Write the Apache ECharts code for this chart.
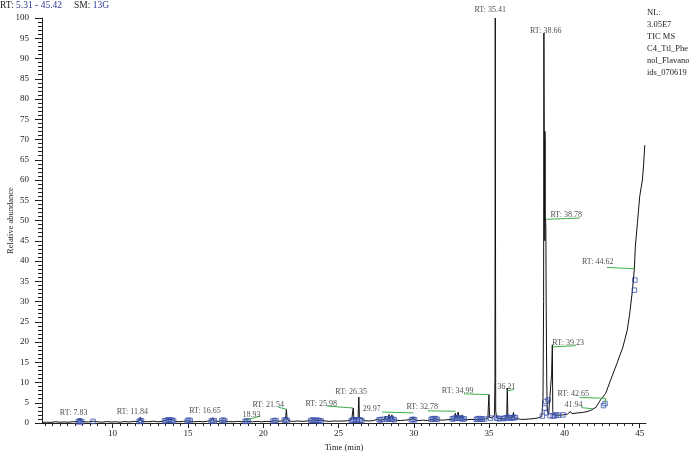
<!DOCTYPE html>
<html>
<head>
<meta charset="utf-8">
<script src="https://cdn.jsdelivr.net/npm/echarts@6/dist/echarts.min.js"></script>
<style>html,body{margin:0;padding:0;background:#fff}#c{width:689px;height:458px}</style>
</head>
<body>
<div id="c"></div>
<script>
// Chromatogram (time in min, relative abundance %)
const times = [5.31,5.6,5.9,6.2,6.5,6.8,7.1,7.4,7.7,7.8,7.83,7.87,8.1,8.4,8.7,9.0,9.3,9.6,9.9,10.2,10.5,10.8,11.1,11.4,11.7,11.8,11.84,11.88,12.1,12.4,12.7,13.0,13.3,13.55,13.65,13.75,13.85,14.0,14.15,14.4,14.7,14.95,15.05,15.15,15.4,15.7,16.0,16.3,16.55,16.65,16.72,17.0,17.25,17.35,17.45,17.7,18.0,18.3,18.6,18.85,18.93,19.0,19.3,19.6,19.9,20.2,20.5,20.75,20.9,21.2,21.45,21.5,21.54,21.58,21.7,22.0,22.3,22.6,22.9,23.2,23.4,23.6,23.8,24.1,24.4,24.7,25.0,25.3,25.6,25.88,25.93,25.98,26.02,26.2,26.3,26.35,26.39,26.5,26.7,27.0,27.3,27.6,27.8,28.05,28.1,28.15,28.3,28.35,28.4,28.5,28.55,28.6,28.8,29.1,29.4,29.7,29.93,29.97,30.02,30.3,30.6,30.9,31.2,31.4,31.6,31.9,32.2,32.5,32.7,32.75,32.8,32.9,32.95,33.0,33.15,33.2,33.25,33.5,33.8,34.1,34.3,34.5,34.75,34.92,34.95,34.99,35.03,35.2,35.36,35.39,35.41,35.44,35.5,35.7,35.9,36.1,36.17,36.21,36.25,36.4,36.55,36.62,36.68,36.85,37.1,37.4,37.7,38.0,38.3,38.5,38.58,38.62,38.64,38.66,38.68,38.69,38.70,38.71,38.72,38.73,38.75,38.77,38.79,38.81,38.83,38.86,38.9,38.95,39.05,39.15,39.2,39.23,39.26,39.35,39.6,39.9,40.2,40.4,40.5,40.6,40.9,41.2,41.5,41.8,42.1,42.4,42.74,43.07,43.49,43.89,44.18,44.34,44.52,44.65,44.71,44.85,45.0,45.18,45.26,45.34,45.42];
const abundance = [0.15,0.2,0.15,0.3,0.2,0.25,0.2,0.35,0.3,0.5,1.2,0.5,0.3,0.25,0.45,0.3,0.2,0.35,0.25,0.3,0.2,0.35,0.25,0.4,0.35,0.5,1.4,0.5,0.35,0.3,0.45,0.3,0.4,0.7,0.5,0.9,0.6,0.8,0.4,0.3,0.4,0.5,0.9,0.5,0.3,0.4,0.3,0.45,0.5,1.3,0.5,0.4,0.55,1.0,0.5,0.35,0.3,0.4,0.3,0.45,0.9,0.4,0.3,0.4,0.3,0.4,0.35,0.6,0.5,0.45,0.8,1.8,3.4,1.2,0.5,0.4,0.5,0.4,0.5,0.6,0.8,0.6,0.7,0.5,0.4,0.5,0.45,0.5,0.55,0.8,2.5,3.7,1.0,0.9,1.5,6.4,1.3,0.9,0.6,0.5,0.6,0.9,0.7,0.9,1.7,0.8,0.9,2.1,0.9,1.0,2.0,0.9,0.7,0.6,0.7,0.8,1.0,1.5,0.8,0.6,0.7,0.6,0.9,1.1,0.8,0.7,0.8,0.9,1.1,2.4,1.2,1.3,2.7,1.2,1.3,2.0,1.0,0.8,0.9,0.8,1.0,0.9,1.0,1.2,4,7.0,1.4,1.2,2,11,100,3,1.3,1.1,1.0,1.1,1.6,8.6,1.5,1.2,1.4,2.6,1.3,1.1,0.9,0.9,1.0,1.1,1.3,1.6,6,30,96.3,72,50,70,45,72,51,50.8,50.5,48,30,20,10,4,2.5,2.0,2.2,12,19.3,3,2.0,1.8,1.9,2.0,2.2,2.8,2.3,2.3,2.5,2.6,2.8,3.2,3.9,5.7,7.3,10.6,14.7,18.8,23,27.1,32.8,38.2,43.5,49.3,55.9,60.0,63.7,68.6];

// Blue open-square markers
const squareTimes = [7.72,7.8,7.87,7.94,8.7,11.76,11.84,11.92,13.45,13.55,13.65,13.75,13.85,13.95,14.05,14.95,15.05,15.15,16.55,16.65,16.75,17.25,17.35,17.45,18.8,18.9,19.0,20.65,20.75,20.85,21.4,21.5,21.6,23.15,23.25,23.35,23.45,23.55,23.65,23.75,23.85,25.85,25.95,26.05,26.15,26.25,26.35,26.45,26.55,27.7,27.8,27.9,28.2,28.3,28.4,28.5,28.6,28.7,29.85,29.95,30.05,31.15,31.25,31.35,31.45,31.55,32.55,32.65,32.75,32.85,32.95,33.05,33.15,33.25,33.35,34.15,34.25,34.35,34.45,34.55,34.7,35.1,35.5,35.6,35.7,35.95,36.05,36.15,36.25,36.35,36.45,36.55,36.65,36.75,38.54,38.7,38.77,38.81,38.92,39.05,39.25,39.35,39.47,39.6,39.91,42.6,42.7,44.68,44.65];
const squareValues = [0.3,0.5,0.4,0.3,0.4,0.4,0.6,0.5,0.5,0.6,0.7,0.8,0.6,0.7,0.5,0.5,0.7,0.6,0.5,0.6,0.5,0.6,0.7,0.5,0.4,0.5,0.5,0.5,0.6,0.6,0.7,0.8,0.6,0.6,0.7,0.7,0.6,0.7,0.6,0.6,0.5,0.6,0.7,0.8,0.7,0.7,0.8,0.7,0.6,0.8,0.8,0.9,0.9,1.0,1.0,1.1,0.9,0.8,0.8,0.9,0.8,0.9,1.0,1.1,1.0,0.9,1.0,1.1,1.2,1.3,1.2,1.1,1.2,1.0,1.0,0.9,1.0,1.1,1.0,0.9,1.0,1.2,1.2,1.1,1.1,1.1,1.2,1.3,1.4,1.3,1.2,1.3,1.4,1.3,1.7,3.7,5.3,2.5,5.7,1.8,1.7,1.8,2.0,1.9,2.0,4.3,4.8,35.3,32.8];

// Peak annotation labels (text, label centre time, label centre abundance)
const labelTexts = ['RT: 35.41','RT: 38.66','RT: 38.78','RT: 44.62','RT: 39.23','RT: 42.65','41.94','36.21','RT: 34.99','RT: 32.78','29.97','RT: 25.98','RT: 26.35','RT: 21.54','18.93','RT: 7.83','RT: 11.84','RT: 16.65'];
const labelTimes = [35.08,38.76,40.12,42.21,40.25,40.59,40.6,36.15,32.91,30.56,27.21,23.85,25.84,20.33,19.23,7.41,11.31,16.13];
const labelValues = [102.0,96.8,51.4,39.75,19.7,7.1,4.44,9.0,7.9,3.9,3.4,4.7,7.6,4.44,2.1,2.6,2.8,3.0];

// Green connector lines from labels to peaks
const connectorPaths = [
  [[38.81,50.3],[41.02,50.6]],
  [[42.83,38.4],[44.67,38.1]],
  [[39.24,18.8],[40.75,19.1]],
  [[41.02,6.3],[42.72,6.1],[42.72,4.9]],
  [[41.13,3.8],[41.9,3.5]],
  [[36.21,7.9],[36.65,8.3]],
  [[33.32,7.2],[35.01,7.0]],
  [[30.93,3.0],[32.78,2.9]],
  [[27.9,2.7],[29.97,2.5]],
  [[24.2,4.2],[25.97,3.7]],
  [[21.0,3.9],[21.55,3.4]],
  [[18.93,0.8],[19.8,1.7]]
];

// Axis ticks
const xMin = 5.31, xMax = 45.42;
const xMajorTicks = [10,15,20,25,30,35,40,45];
const xMinorTicks = [];
for (let v = 5.5; v <= 45.4; v += 0.5) xMinorTicks.push(+v.toFixed(1));

const headerRange = '5.31 - 45.42';
const headerSM = '13G';
const infoLines = ['NL:','3.05E7','TIC MS','C4_Ttl_Phe','nol_Flavano','ids_070619'];

const FONT = '"Liberation Serif", "DejaVu Serif", serif';
const chart = echarts.init(document.getElementById('c'), null, {renderer: 'canvas'});
chart.setOption({
  animation: false,
  backgroundColor: '#fff',
  title: [{
    left: 0, top: 0, padding: 0,
    text: '{k|RT:} {v|' + headerRange + '}     {k|SM:} {v|' + headerSM + '}',
    textStyle: {fontFamily: FONT, fontSize: 9.5, fontWeight: 'normal',
      rich: {k: {fontFamily: FONT, fontSize: 9.5, color: '#222'}, v: {fontFamily: FONT, fontSize: 9.5, color: '#2b3a8f'}}}
  }, {
    left: 647, top: 7, padding: 0,
    text: infoLines.join('\n'),
    textStyle: {fontFamily: FONT, fontSize: 8.5, fontWeight: 'normal', color: '#222', lineHeight: 12}
  }],
  grid: {left: 42, right: 43, top: 18, bottom: 35, containLabel: false, outerBoundsMode: 'none'},
  xAxis: [{
    type: 'value', min: xMin, max: xMax,
    name: 'Time (min)', nameLocation: 'middle', nameGap: 20, nameMoveOverlap: false,
    nameTextStyle: {fontFamily: FONT, fontSize: 8.5, color: '#222'},
    axisLine: {show: true, onZero: false, lineStyle: {color: '#222', width: 1}},
    axisTick: {show: true, length: 5, customValues: xMajorTicks, lineStyle: {color: '#222'}},
    axisLabel: {show: true, customValues: xMajorTicks, margin: 6, fontFamily: FONT, fontSize: 9, color: '#222'},
    splitLine: {show: false}
  }, {
    type: 'value', min: xMin, max: xMax, position: 'bottom',
    axisLine: {show: false},
    axisTick: {show: true, length: 3, customValues: xMinorTicks, lineStyle: {color: '#222'}},
    axisLabel: {show: false},
    splitLine: {show: false}
  }],
  yAxis: {
    type: 'value', min: 0, max: 100, interval: 5,
    name: 'Relative abundance', nameLocation: 'middle', nameGap: 27, nameRotate: 90, nameMoveOverlap: false,
    nameTextStyle: {fontFamily: FONT, fontSize: 8.5, color: '#222'},
    axisLine: {show: true, lineStyle: {color: '#222', width: 1}},
    axisTick: {show: true, length: 7, lineStyle: {color: '#222'}},
    minorTick: {show: true, splitNumber: 5, length: 4, lineStyle: {color: '#222'}},
    axisLabel: {margin: 13, fontFamily: FONT, fontSize: 9, color: '#222'},
    splitLine: {show: false}
  },
  series: [{
    type: 'line', xAxisIndex: 0, silent: true,
    data: times.map((t, i) => [t, abundance[i]]),
    showSymbol: false, symbol: 'none',
    lineStyle: {color: '#111', width: 1},
    z: 3
  }, {
    type: 'scatter', xAxisIndex: 0, silent: true,
    data: squareTimes.map((t, i) => [t, squareValues[i]]),
    symbol: 'rect', symbolSize: 4.5,
    itemStyle: {color: 'rgba(0,0,0,0)', borderColor: '#3a52b0', borderWidth: 1},
    z: 4
  }, {
    type: 'lines', coordinateSystem: 'cartesian2d', xAxisIndex: 0, polyline: true, silent: true,
    data: connectorPaths.map(p => ({coords: p})),
    lineStyle: {color: '#3cae4a', width: 1, opacity: 1},
    z: 5
  }, {
    type: 'scatter', xAxisIndex: 0, silent: true, clip: false,
    data: labelTexts.map((s, i) => ({name: s, value: [labelTimes[i], labelValues[i]]})),
    symbolSize: 1, itemStyle: {color: 'rgba(0,0,0,0)'},
    label: {show: true, position: 'inside', formatter: p => p.name,
      fontFamily: FONT, fontSize: 8, color: '#222'},
    z: 6
  }]
});
</script>
</body>
</html>
